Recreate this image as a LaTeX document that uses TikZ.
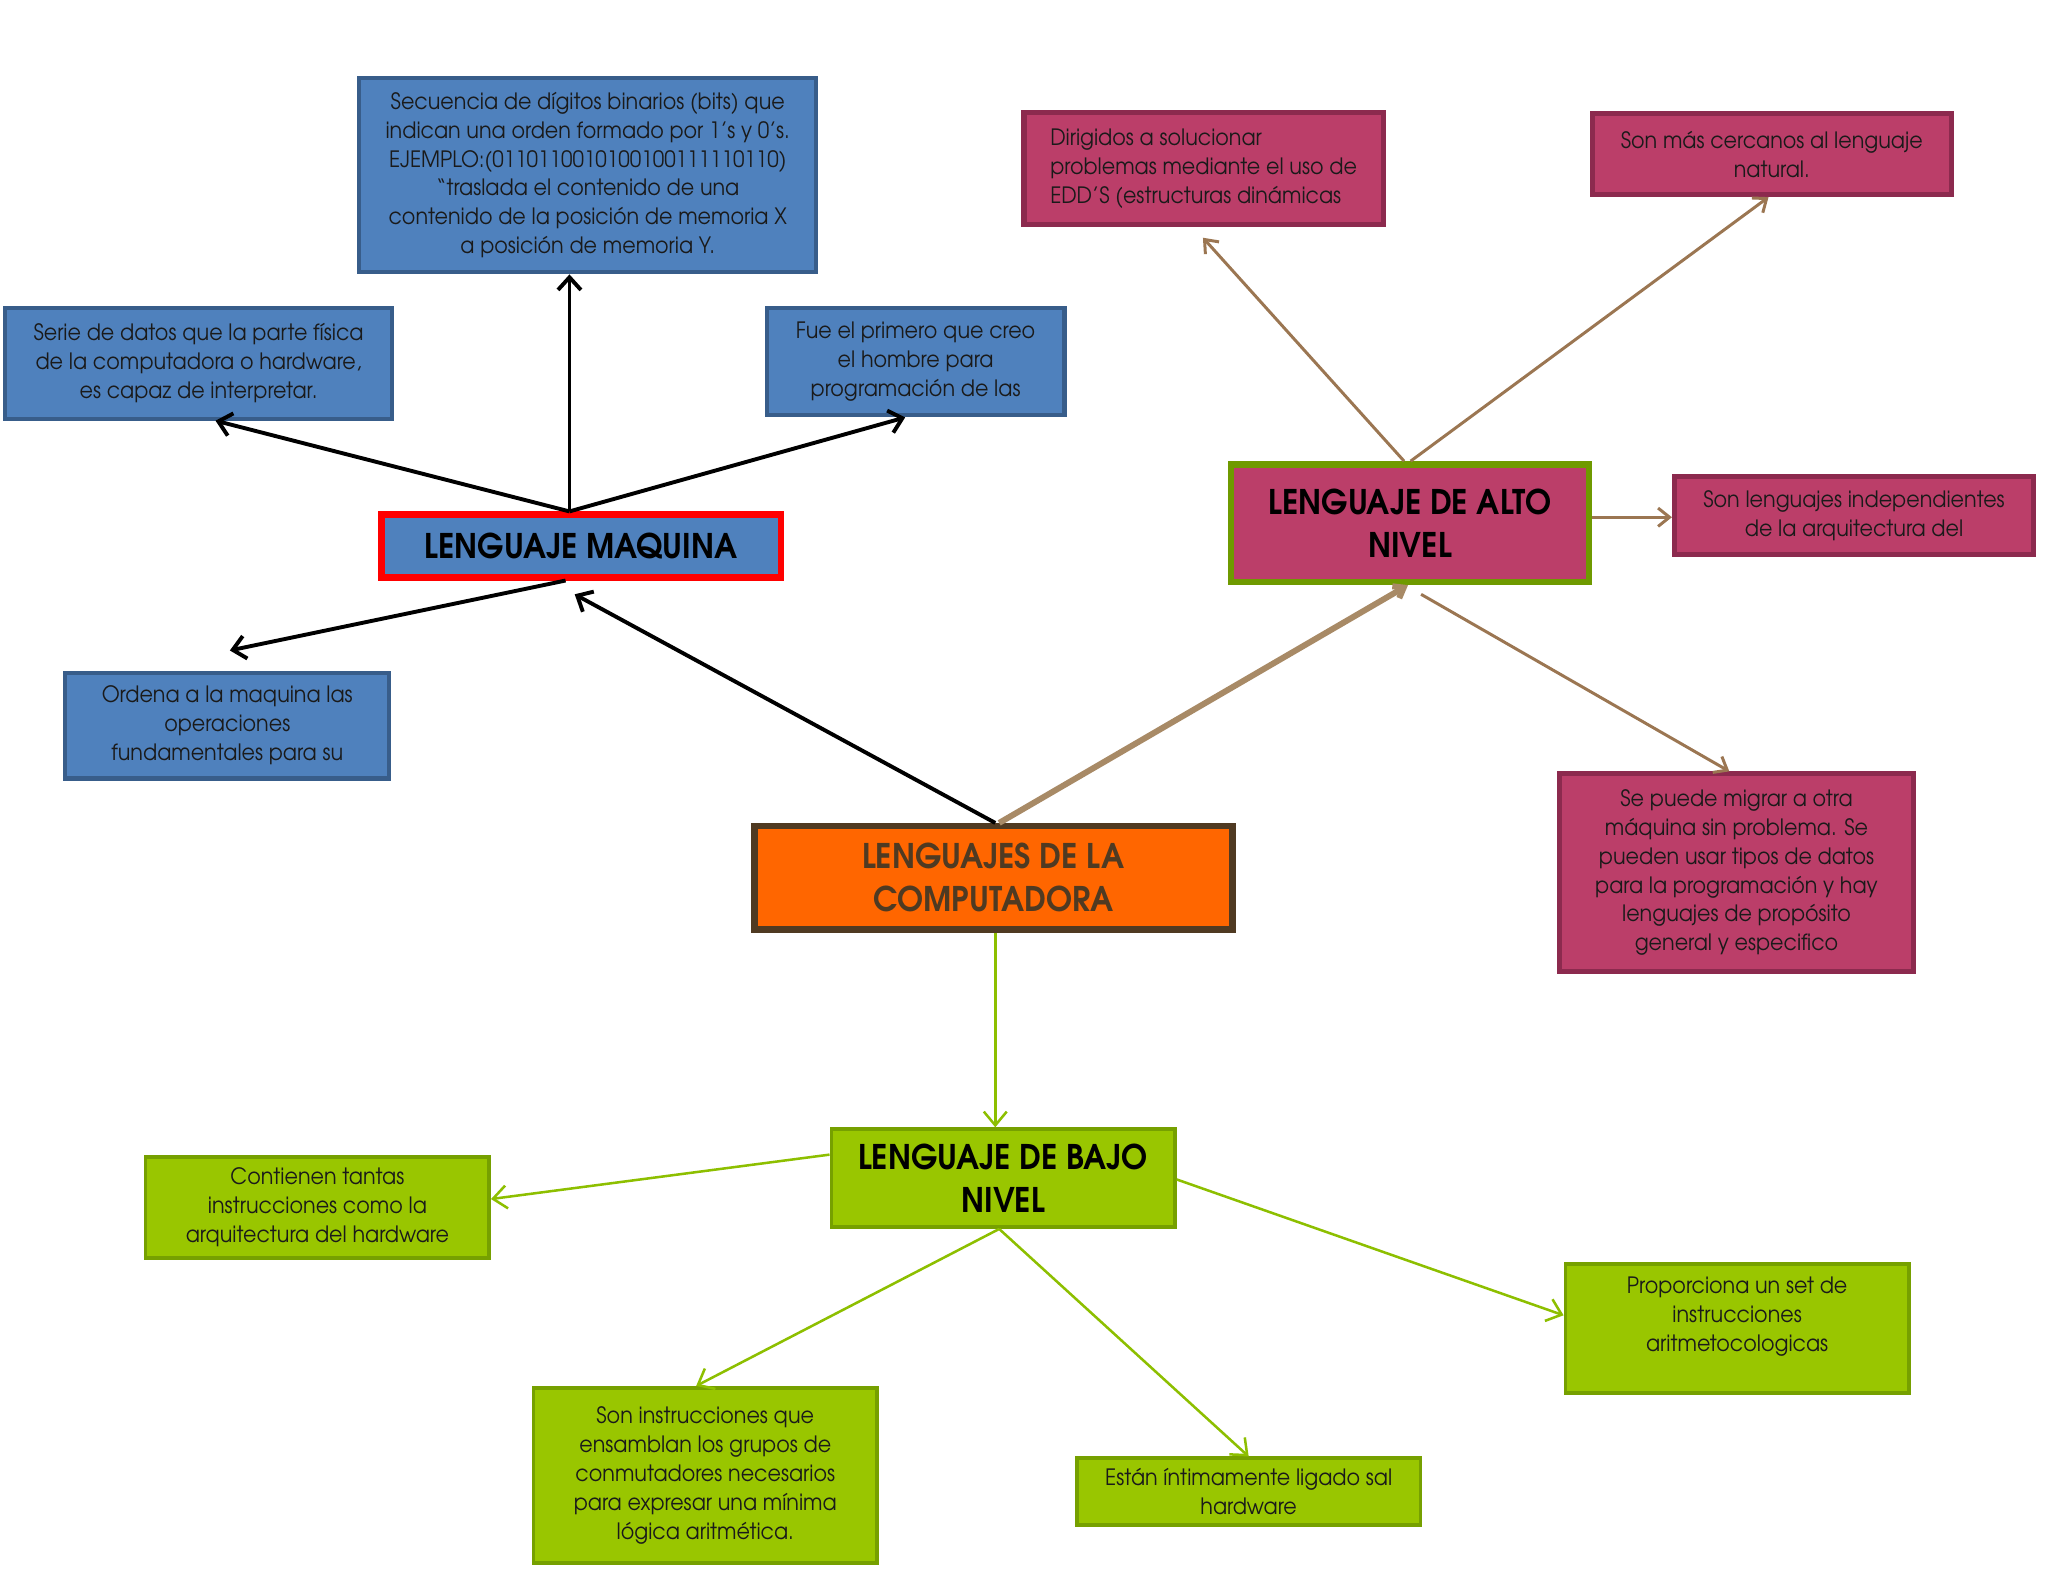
\documentclass[tikz,border=0pt]{standalone}
\usepackage{fontspec}
\setmainfont{texgyreadventor}[Extension=.otf, UprightFont=*-regular, BoldFont=*-bold, ItalicFont=*-italic, BoldItalicFont=*-bolditalic, FakeStretch=0.92]
\usetikzlibrary{arrows.meta}
\definecolor{blueF}{HTML}{4F81BD}
\definecolor{blueD}{HTML}{385D8A}
\definecolor{magF}{HTML}{BB3E69}
\definecolor{magD}{HTML}{8C2A4E}
\definecolor{greenF}{HTML}{99C600}
\definecolor{greenD}{HTML}{76A000}
\definecolor{orangeF}{HTML}{FF6600}
\definecolor{brownD}{HTML}{4F3A22}
\definecolor{altoD}{HTML}{6F9A00}
\definecolor{arrBrown}{HTML}{9B7652}
\definecolor{arrTan}{HTML}{A88A66}
\definecolor{arrGreen}{HTML}{8DBF00}
\definecolor{txt}{HTML}{1A1A1A}
\tikzset{
  sz/.style 2 args={minimum width=#1*0.02cm, minimum height=#2*0.02cm},
  box/.style={rectangle, align=center, inner sep=0pt, text=txt, font=\fontsize{9.8pt}{12.6pt}\selectfont},
  bluebox/.style={box, fill=blueF, draw=blueD, line width=1.8pt},
  magbox/.style={box, fill=magF, draw=magD, line width=2.2pt},
  greenbox/.style={box, fill=greenF, draw=greenD, line width=1.6pt},
  titlebox/.style={rectangle, align=center, inner sep=0pt, line width=2.8pt, font=\fontsize{14.8pt}{18.7pt}\selectfont\bfseries},
  blk/.style={draw=black, line width=1.7pt, -{Straight Barb[length=5.5pt,width=10pt]}},
  brn/.style={draw=arrBrown, line width=1.3pt, -{Straight Barb[length=5pt,width=8pt]}},
  grn/.style={draw=arrGreen, line width=1.1pt, -{Straight Barb[length=6pt,width=10pt]}},
}
\begin{document}
\begin{tikzpicture}[x=0.02cm, y=-0.02cm]
\useasboundingbox (0,0) rectangle (1568,1211);
% blue boxes
\node[bluebox, sz={350}{149}] (sec) at (450,134) {Secuencia de dígitos binarios (bits) que\\indican una orden formado por 1’s y 0’s.\\EJEMPLO:(0110110010100100111110110)\\“traslada el contenido de una\\contenido de la posición de memoria X\\a posición de memoria Y.};
\node[bluebox, sz={296}{85}] (serie) at (152,278) {Serie de datos que la parte física\\de la computadora o hardware,\\es capaz de interpretar.};
\node[bluebox, sz={228}{82}] (fue) at (701,277) {Fue el primero que creo\\el hombre para\\programación de las};
\node[titlebox, fill=blueF, draw=red, sz={306}{48}] (maq) at (445,418) {LENGUAJE MAQUINA};
\node[bluebox, sz={248}{81}] (ord) at (174,555.5) {Ordena a la maquina las\\operaciones\\fundamentales para su};
% center
\node[titlebox, fill=orangeF, draw=brownD, text=brownD, sz={366}{79}] (comp) at (760.5,672) {LENGUAJES DE LA\\COMPUTADORA};
% magenta
\node[magbox, sz={275}{86}] (dir) at (921.5,129) {\begin{tabular}{@{}l@{}}Dirigidos a solucionar\\problemas mediante el uso de\\EDD’S (estructuras dinámicas\end{tabular}};
\node[magbox, sz={275}{62}] (cerc) at (1356.5,118) {Son más cercanos al lenguaje\\natural.};
\node[titlebox, fill=magF, draw=altoD, sz={274}{90}] (alto) at (1079.5,400.5) {LENGUAJE DE ALTO\\NIVEL};
\node[magbox, sz={275}{60}] (indep) at (1419.5,394.5) {Son lenguajes independientes\\de la arquitectura del};
\node[magbox, sz={271}{151}] (migr) at (1329.5,668) {Se puede migrar a otra\\máquina sin problema. Se\\pueden usar tipos de datos\\para la programación y hay\\lenguajes de propósito\\general y especifico};
% green
\node[titlebox, fill=greenF, draw=greenD, line width=1.6pt, sz={263}{75}] (bajo) at (768,902) {LENGUAJE DE BAJO\\NIVEL};
\node[greenbox, sz={263}{77}] (cont) at (243,924.5) {Contienen tantas\\instrucciones como la\\arquitectura del hardware};
\node[greenbox, sz={263}{134}] (inst) at (540,1129.5) {Son instrucciones que\\ensamblan los grupos de\\conmutadores necesarios\\para expresar una mínima\\lógica aritmética.};
\node[greenbox, sz={263}{51}] (estan) at (956,1142) {Están íntimamente ligado sal\\hardware};
\node[greenbox, sz={263}{99}] (prop) at (1330,1017) {Proporciona un set de\\instrucciones\\aritmetocologicas\\ \mbox{}};
% free ends
\coordinate (ordTip) at (176,498);
\coordinate (maqTip) at (440,455);
\coordinate (dirTip) at (921,182);
\coordinate (altoOut) at (1088,455);
% black arrows
\draw[blk] (436,0 |- maq.north) -- (436,0 |- sec.south);
\draw[blk] (436,0 |- maq.north) -- (165,0 |- serie.south);
\draw[blk] (436,0 |- maq.north) -- (693,0 |- fue.south);
\draw[blk] (433,0 |- maq.south) -- (ordTip);
\draw[blk] (762,0 |- comp.north) -- (maqTip);
% brown arrows
\draw[brn, draw=arrTan, line width=2.6pt, -{Straight Barb[length=4pt,width=6pt]}] (765,0 |- comp.north) -- (1078,0 |- alto.south);
\draw[brn] (1075,0 |- alto.north) -- (dirTip);
\draw[brn] (1080,0 |- alto.north) -- (1354,0 |- cerc.south);
\draw[brn] (alto.east |- 0,396) -- (indep.west |- 0,396);
\draw[brn] (altoOut) -- (1324,0 |- migr.north);
% green arrows
\draw[grn] (762,0 |- comp.south) -- (762,0 |- bajo.north);
\draw[grn] (bajo.west |- 0,884) -- (cont.east |- 0,918);
\draw[grn] (765,0 |- bajo.south) -- (533,0 |- inst.north);
\draw[grn] (765,0 |- bajo.south) -- (956,0 |- estan.north);
\draw[grn] (bajo.east |- 0,903) -- (prop.west |- 0,1007);
\end{tikzpicture}
\end{document}
